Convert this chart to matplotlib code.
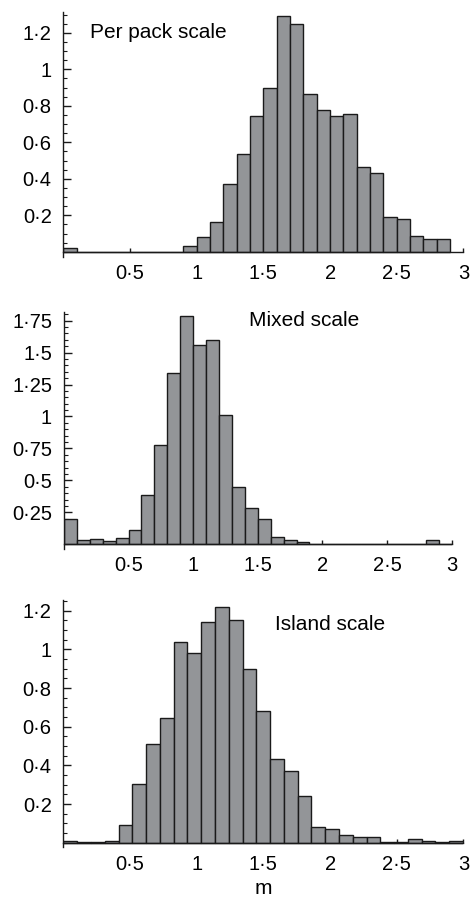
import numpy as np
import matplotlib
matplotlib.use("Agg")
import matplotlib.pyplot as plt
from matplotlib.ticker import FixedLocator, MultipleLocator, FuncFormatter

plt.rcParams['font.family'] = ['Liberation Sans', 'DejaVu Sans']

# density of m per bin, one list per spatial scale
per_pack = [0.022, 0, 0, 0, 0, 0, 0, 0, 0, 0.031, 0.082, 0.162, 0.374, 0.535,
            0.746, 0.898, 1.29, 1.248, 0.865, 0.777, 0.745, 0.755, 0.463, 0.432,
            0.192, 0.181, 0.089, 0.071, 0.071]
mixed = [0.195, 0.034, 0.044, 0.023, 0.052, 0.115, 0.385, 0.779, 1.341, 1.784,
         1.562, 1.602, 1.008, 0.445, 0.284, 0.195, 0.057, 0.034, 0.018, 0.006,
         0.006, 0.006, 0, 0, 0, 0.004, 0, 0, 0.032, 0.006]
island = [0.01, 0.003, 0.003, 0.01, 0.093, 0.303, 0.512, 0.643, 1.04, 0.981,
          1.14, 1.221, 1.15, 0.9, 0.681, 0.431, 0.372, 0.241, 0.083, 0.072,
          0.038, 0.028, 0.028, 0.002, 0.002, 0.017, 0.008, 0.002, 0.01]

labels = ["Per pack scale", "Mixed scale", "Island scale"]
bin_widths = [0.1, 0.1, 3.1 / 30]
yticks = [[0.2, 0.4, 0.6, 0.8, 1, 1.2],
          [0.25, 0.5, 0.75, 1, 1.25, 1.5, 1.75],
          [0.2, 0.4, 0.6, 0.8, 1, 1.2]]
xticks = [0.5, 1, 1.5, 2, 2.5, 3]

# layout: [left, bottom, width, height], y limits, label position
rects = [[0.135, 0.7148, 0.851, 0.272],
         [0.136, 0.3897, 0.825, 0.264],
         [0.135, 0.0585, 0.851, 0.2748]]
ylims = [(-0.027, 1.315), (-0.039, 1.82), (-0.024, 1.255)]
text_pos = [(0.2, 1.2), (1.43, 1.75), (1.59, 1.13)]

fmt = FuncFormatter(lambda v, pos: f"{v:g}".replace(".", "\u00b7"))

fig = plt.figure(figsize=(4.7, 9), dpi=100)

for i, vals in enumerate([per_pack, mixed, island]):
    ax = fig.add_axes(rects[i])
    w = bin_widths[i]
    left = np.arange(len(vals)) * w
    ax.bar(left, vals, width=w, align="edge", color="#939598",
           edgecolor="#1a1a1a", linewidth=1.0, zorder=2)

    ax.set_xlim(0, 3.0)
    ax.set_ylim(*ylims[i])
    for s in ["top", "right"]:
        ax.spines[s].set_visible(False)
    ax.spines["bottom"].set_position(("data", 0))
    ax.spines["left"].set_position(("data", 0))
    for s in ["bottom", "left"]:
        ax.spines[s].set_linewidth(1.0)
        ax.spines[s].set_color("#1a1a1a")
        ax.spines[s].set_zorder(3)

    ax.xaxis.set_major_locator(FixedLocator(xticks))
    ax.yaxis.set_major_locator(FixedLocator(yticks[i]))
    ax.yaxis.set_minor_locator(MultipleLocator(0.05))
    ax.xaxis.set_major_formatter(fmt)
    ax.yaxis.set_major_formatter(fmt)
    ax.tick_params(axis="x", direction="in", length=3, width=1.0,
                   pad=8.5, labelsize=14.5, color="#1a1a1a")
    ax.tick_params(axis="y", which="major", direction="in", length=5.5,
                   width=1.0, pad=8.5, labelsize=14.5, color="#1a1a1a")
    ax.tick_params(axis="y", which="minor", direction="in", length=3,
                   width=0.8, color="#1a1a1a")

    ax.text(text_pos[i][0], text_pos[i][1], labels[i], fontsize=15,
            ha="left", va="center")

    if i == 2:
        ax.set_xlabel("m", fontsize=15, labelpad=4)

fig.savefig("out.png", dpi=100)
